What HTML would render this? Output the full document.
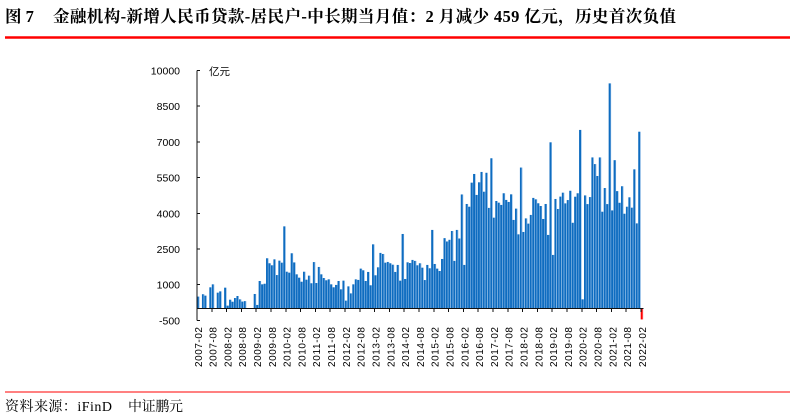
<!DOCTYPE html>
<html>
<head>
<meta charset="utf-8">
<style>
html,body{margin:0;padding:0;background:#fff;}
svg{display:block;}
.t{font-family:"Liberation Serif","Noto Serif CJK SC",serif;font-weight:bold;font-size:16.5px;fill:#000;}
.f{font-family:"Liberation Serif","Noto Serif CJK SC",serif;font-size:14px;fill:#000;}
.yl{font-family:"Liberation Sans","Noto Sans CJK SC",sans-serif;font-size:10.5px;fill:#000;}
.xl{font-family:"Liberation Sans",sans-serif;font-size:10px;fill:#000;}
</style>
</head>
<body>
<svg width="790" height="419" viewBox="0 0 790 419" xmlns="http://www.w3.org/2000/svg">
<defs>
<linearGradient id="bg" x1="0" y1="0" x2="1" y2="0">
<stop offset="0" stop-color="#0e6cc0"/>
<stop offset="0.68" stop-color="#0e6cc0"/>
<stop offset="0.74" stop-color="#7db1e2"/>
<stop offset="1" stop-color="#7db1e2"/>
</linearGradient>
<linearGradient id="rg" x1="0" y1="0" x2="1" y2="0">
<stop offset="0" stop-color="#ff0000"/>
<stop offset="0.7" stop-color="#ff0000"/>
<stop offset="0.75" stop-color="#ff8080"/>
<stop offset="1" stop-color="#ff8080"/>
</linearGradient>
</defs>

<!-- Title -->
<text class="t" x="5" y="22">图 7</text>
<text class="t" x="53" y="22" textLength="623" lengthAdjust="spacing">金融机构-新增人民币贷款-居民户-中长期当月值：2 月减少 459 亿元，历史首次负值</text>
<line x1="5" y1="37.5" x2="790" y2="37.5" stroke="#ff0000" stroke-width="2.5"/>

<!-- Bars -->
<g transform="translate(197,308.5) scale(2.465,-0.02381)" fill="url(#bg)">
<rect x="0" y="0" width="1" height="500"/>
<rect x="2" y="0" width="1" height="600"/>
<rect x="3" y="0" width="1" height="540"/>
<rect x="5" y="0" width="1" height="890"/>
<rect x="6" y="0" width="1" height="1015"/>
<rect x="8" y="0" width="1" height="665"/>
<rect x="9" y="0" width="1" height="720"/>
<rect x="11" y="0" width="1" height="875"/>
<rect x="12" y="0" width="1" height="120"/>
<rect x="13" y="0" width="1" height="370"/>
<rect x="14" y="0" width="1" height="285"/>
<rect x="15" y="0" width="1" height="440"/>
<rect x="16" y="0" width="1" height="525"/>
<rect x="17" y="0" width="1" height="385"/>
<rect x="18" y="0" width="1" height="290"/>
<rect x="19" y="0" width="1" height="310"/>
<rect x="23" y="0" width="1" height="610"/>
<rect x="24" y="0" width="1" height="150"/>
<rect x="25" y="0" width="1" height="1155"/>
<rect x="26" y="0" width="1" height="1015"/>
<rect x="27" y="0" width="1" height="1040"/>
<rect x="28" y="0" width="1" height="2110"/>
<rect x="29" y="0" width="1" height="1900"/>
<rect x="30" y="0" width="1" height="1815"/>
<rect x="31" y="0" width="1" height="2065"/>
<rect x="32" y="0" width="1" height="1405"/>
<rect x="33" y="0" width="1" height="2010"/>
<rect x="34" y="0" width="1" height="1925"/>
<rect x="35" y="0" width="1" height="3450"/>
<rect x="36" y="0" width="1" height="1545"/>
<rect x="37" y="0" width="1" height="1505"/>
<rect x="38" y="0" width="1" height="2320"/>
<rect x="39" y="0" width="1" height="1935"/>
<rect x="40" y="0" width="1" height="1435"/>
<rect x="41" y="0" width="1" height="1295"/>
<rect x="42" y="0" width="1" height="1125"/>
<rect x="43" y="0" width="1" height="1545"/>
<rect x="44" y="0" width="1" height="1210"/>
<rect x="45" y="0" width="1" height="1380"/>
<rect x="46" y="0" width="1" height="1060"/>
<rect x="47" y="0" width="1" height="1950"/>
<rect x="48" y="0" width="1" height="1070"/>
<rect x="49" y="0" width="1" height="1745"/>
<rect x="50" y="0" width="1" height="1435"/>
<rect x="51" y="0" width="1" height="1280"/>
<rect x="52" y="0" width="1" height="1185"/>
<rect x="53" y="0" width="1" height="1225"/>
<rect x="54" y="0" width="1" height="1015"/>
<rect x="55" y="0" width="1" height="890"/>
<rect x="56" y="0" width="1" height="990"/>
<rect x="57" y="0" width="1" height="1155"/>
<rect x="58" y="0" width="1" height="805"/>
<rect x="59" y="0" width="1" height="1170"/>
<rect x="60" y="0" width="1" height="330"/>
<rect x="61" y="0" width="1" height="930"/>
<rect x="62" y="0" width="1" height="635"/>
<rect x="63" y="0" width="1" height="1015"/>
<rect x="64" y="0" width="1" height="1225"/>
<rect x="65" y="0" width="1" height="1200"/>
<rect x="66" y="0" width="1" height="1675"/>
<rect x="67" y="0" width="1" height="1605"/>
<rect x="68" y="0" width="1" height="1155"/>
<rect x="69" y="0" width="1" height="1535"/>
<rect x="70" y="0" width="1" height="975"/>
<rect x="71" y="0" width="1" height="2695"/>
<rect x="72" y="0" width="1" height="1395"/>
<rect x="73" y="0" width="1" height="1730"/>
<rect x="74" y="0" width="1" height="2335"/>
<rect x="75" y="0" width="1" height="2290"/>
<rect x="76" y="0" width="1" height="1925"/>
<rect x="77" y="0" width="1" height="1955"/>
<rect x="78" y="0" width="1" height="1900"/>
<rect x="79" y="0" width="1" height="1840"/>
<rect x="80" y="0" width="1" height="1535"/>
<rect x="81" y="0" width="1" height="1830"/>
<rect x="82" y="0" width="1" height="1170"/>
<rect x="83" y="0" width="1" height="3130"/>
<rect x="84" y="0" width="1" height="1240"/>
<rect x="85" y="0" width="1" height="1940"/>
<rect x="86" y="0" width="1" height="1910"/>
<rect x="87" y="0" width="1" height="2040"/>
<rect x="88" y="0" width="1" height="2000"/>
<rect x="89" y="0" width="1" height="1815"/>
<rect x="90" y="0" width="1" height="1900"/>
<rect x="91" y="0" width="1" height="1715"/>
<rect x="92" y="0" width="1" height="1195"/>
<rect x="93" y="0" width="1" height="1830"/>
<rect x="94" y="0" width="1" height="1690"/>
<rect x="95" y="0" width="1" height="3300"/>
<rect x="96" y="0" width="1" height="1870"/>
<rect x="97" y="0" width="1" height="1675"/>
<rect x="98" y="0" width="1" height="1575"/>
<rect x="99" y="0" width="1" height="2080"/>
<rect x="100" y="0" width="1" height="2955"/>
<rect x="101" y="0" width="1" height="2815"/>
<rect x="102" y="0" width="1" height="2885"/>
<rect x="103" y="0" width="1" height="3255"/>
<rect x="104" y="0" width="1" height="2000"/>
<rect x="105" y="0" width="1" height="3300"/>
<rect x="106" y="0" width="1" height="2940"/>
<rect x="107" y="0" width="1" height="4790"/>
<rect x="108" y="0" width="1" height="1830"/>
<rect x="109" y="0" width="1" height="4390"/>
<rect x="110" y="0" width="1" height="4275"/>
<rect x="111" y="0" width="1" height="5285"/>
<rect x="112" y="0" width="1" height="5650"/>
<rect x="113" y="0" width="1" height="4770"/>
<rect x="114" y="0" width="1" height="5300"/>
<rect x="115" y="0" width="1" height="5735"/>
<rect x="116" y="0" width="1" height="4905"/>
<rect x="117" y="0" width="1" height="5700"/>
<rect x="118" y="0" width="1" height="4225"/>
<rect x="119" y="0" width="1" height="6310"/>
<rect x="120" y="0" width="1" height="3815"/>
<rect x="121" y="0" width="1" height="4515"/>
<rect x="122" y="0" width="1" height="4445"/>
<rect x="123" y="0" width="1" height="4350"/>
<rect x="124" y="0" width="1" height="4840"/>
<rect x="125" y="0" width="1" height="4560"/>
<rect x="126" y="0" width="1" height="4475"/>
<rect x="127" y="0" width="1" height="4795"/>
<rect x="128" y="0" width="1" height="3720"/>
<rect x="129" y="0" width="1" height="4195"/>
<rect x="130" y="0" width="1" height="3115"/>
<rect x="131" y="0" width="1" height="5920"/>
<rect x="132" y="0" width="1" height="3215"/>
<rect x="133" y="0" width="1" height="3785"/>
<rect x="134" y="0" width="1" height="3565"/>
<rect x="135" y="0" width="1" height="3930"/>
<rect x="136" y="0" width="1" height="4645"/>
<rect x="137" y="0" width="1" height="4585"/>
<rect x="138" y="0" width="1" height="4420"/>
<rect x="139" y="0" width="1" height="4305"/>
<rect x="140" y="0" width="1" height="3760"/>
<rect x="141" y="0" width="1" height="4390"/>
<rect x="142" y="0" width="1" height="3090"/>
<rect x="143" y="0" width="1" height="6980"/>
<rect x="144" y="0" width="1" height="2250"/>
<rect x="145" y="0" width="1" height="4600"/>
<rect x="146" y="0" width="1" height="4180"/>
<rect x="147" y="0" width="1" height="4700"/>
<rect x="148" y="0" width="1" height="4865"/>
<rect x="149" y="0" width="1" height="4415"/>
<rect x="150" y="0" width="1" height="4555"/>
<rect x="151" y="0" width="1" height="4945"/>
<rect x="152" y="0" width="1" height="3600"/>
<rect x="153" y="0" width="1" height="4695"/>
<rect x="154" y="0" width="1" height="4840"/>
<rect x="155" y="0" width="1" height="7500"/>
<rect x="156" y="0" width="1" height="385"/>
<rect x="157" y="0" width="1" height="4750"/>
<rect x="158" y="0" width="1" height="4385"/>
<rect x="159" y="0" width="1" height="4680"/>
<rect x="160" y="0" width="1" height="6345"/>
<rect x="161" y="0" width="1" height="6065"/>
<rect x="162" y="0" width="1" height="5565"/>
<rect x="163" y="0" width="1" height="6345"/>
<rect x="164" y="0" width="1" height="4065"/>
<rect x="165" y="0" width="1" height="5060"/>
<rect x="166" y="0" width="1" height="4385"/>
<rect x="167" y="0" width="1" height="9455"/>
<rect x="168" y="0" width="1" height="4120"/>
<rect x="169" y="0" width="1" height="6230"/>
<rect x="170" y="0" width="1" height="4930"/>
<rect x="171" y="0" width="1" height="4440"/>
<rect x="172" y="0" width="1" height="5135"/>
<rect x="173" y="0" width="1" height="3980"/>
<rect x="174" y="0" width="1" height="4275"/>
<rect x="175" y="0" width="1" height="4670"/>
<rect x="176" y="0" width="1" height="4235"/>
<rect x="177" y="0" width="1" height="5845"/>
<rect x="178" y="0" width="1" height="3575"/>
<rect x="179" y="0" width="1" height="7425"/>
<rect x="180" y="-459" width="1" height="459" fill="url(#rg)"/>
</g>

<!-- Axes -->
<g stroke="#111" stroke-width="1" fill="none" shape-rendering="crispEdges">
<line x1="197" y1="70.4" x2="197" y2="320.6"/>
<line x1="197" y1="308.5" x2="643.5" y2="308.5"/>
<path d="M197 70.4h3M197 106.1h3M197 141.8h3M197 177.6h3M197 213.3h3M197 249h3M197 284.7h3M197 320.6h3"/>
<path d="M211.8 308.5v3.5M226.6 308.5v3.5M241.4 308.5v3.5M256.2 308.5v3.5M271 308.5v3.5M285.8 308.5v3.5M300.6 308.5v3.5M315.4 308.5v3.5M330.2 308.5v3.5M345 308.5v3.5M359.8 308.5v3.5M374.6 308.5v3.5M389.4 308.5v3.5M404.2 308.5v3.5M419 308.5v3.5M433.8 308.5v3.5M448.6 308.5v3.5M463.4 308.5v3.5M478.2 308.5v3.5M493 308.5v3.5M507.8 308.5v3.5M522.6 308.5v3.5M537.4 308.5v3.5M552.2 308.5v3.5M567 308.5v3.5M581.8 308.5v3.5M596.6 308.5v3.5M611.4 308.5v3.5M626.2 308.5v3.5M641 308.5v3.5"/>
</g>

<!-- Y labels -->
<g class="yl" text-anchor="end">
<text x="180" y="74.4">10000</text>
<text x="180" y="110.1">8500</text>
<text x="180" y="145.8">7000</text>
<text x="180" y="181.6">5500</text>
<text x="180" y="217.3">4000</text>
<text x="180" y="253">2500</text>
<text x="180" y="288.7">1000</text>
<text x="180" y="324.6">-500</text>
</g>
<text class="yl" x="209" y="75" font-size="11">亿元</text>

<!-- X labels -->
<g class="xl" text-anchor="end">
<text transform="translate(201.8,327) rotate(-90)" textLength="40" lengthAdjust="spacing">2007-02</text>
<text transform="translate(216.6,327) rotate(-90)" textLength="40" lengthAdjust="spacing">2007-08</text>
<text transform="translate(231.4,327) rotate(-90)" textLength="40" lengthAdjust="spacing">2008-02</text>
<text transform="translate(246.2,327) rotate(-90)" textLength="40" lengthAdjust="spacing">2008-08</text>
<text transform="translate(261,327) rotate(-90)" textLength="40" lengthAdjust="spacing">2009-02</text>
<text transform="translate(275.8,327) rotate(-90)" textLength="40" lengthAdjust="spacing">2009-08</text>
<text transform="translate(290.6,327) rotate(-90)" textLength="40" lengthAdjust="spacing">2010-02</text>
<text transform="translate(305.4,327) rotate(-90)" textLength="40" lengthAdjust="spacing">2010-08</text>
<text transform="translate(320.2,327) rotate(-90)" textLength="40" lengthAdjust="spacing">2011-02</text>
<text transform="translate(335.1,327) rotate(-90)" textLength="40" lengthAdjust="spacing">2011-08</text>
<text transform="translate(349.9,327) rotate(-90)" textLength="40" lengthAdjust="spacing">2012-02</text>
<text transform="translate(364.7,327) rotate(-90)" textLength="40" lengthAdjust="spacing">2012-08</text>
<text transform="translate(379.5,327) rotate(-90)" textLength="40" lengthAdjust="spacing">2013-02</text>
<text transform="translate(394.3,327) rotate(-90)" textLength="40" lengthAdjust="spacing">2013-08</text>
<text transform="translate(409.1,327) rotate(-90)" textLength="40" lengthAdjust="spacing">2014-02</text>
<text transform="translate(423.9,327) rotate(-90)" textLength="40" lengthAdjust="spacing">2014-08</text>
<text transform="translate(438.7,327) rotate(-90)" textLength="40" lengthAdjust="spacing">2015-02</text>
<text transform="translate(453.5,327) rotate(-90)" textLength="40" lengthAdjust="spacing">2015-08</text>
<text transform="translate(468.3,327) rotate(-90)" textLength="40" lengthAdjust="spacing">2016-02</text>
<text transform="translate(483.1,327) rotate(-90)" textLength="40" lengthAdjust="spacing">2016-08</text>
<text transform="translate(497.9,327) rotate(-90)" textLength="40" lengthAdjust="spacing">2017-02</text>
<text transform="translate(512.7,327) rotate(-90)" textLength="40" lengthAdjust="spacing">2017-08</text>
<text transform="translate(527.5,327) rotate(-90)" textLength="40" lengthAdjust="spacing">2018-02</text>
<text transform="translate(542.3,327) rotate(-90)" textLength="40" lengthAdjust="spacing">2018-08</text>
<text transform="translate(557.1,327) rotate(-90)" textLength="40" lengthAdjust="spacing">2019-02</text>
<text transform="translate(571.9,327) rotate(-90)" textLength="40" lengthAdjust="spacing">2019-08</text>
<text transform="translate(586.7,327) rotate(-90)" textLength="40" lengthAdjust="spacing">2020-02</text>
<text transform="translate(601.5,327) rotate(-90)" textLength="40" lengthAdjust="spacing">2020-08</text>
<text transform="translate(616.3,327) rotate(-90)" textLength="40" lengthAdjust="spacing">2021-02</text>
<text transform="translate(631.1,327) rotate(-90)" textLength="40" lengthAdjust="spacing">2021-08</text>
<text transform="translate(645.9,327) rotate(-90)" textLength="40" lengthAdjust="spacing">2022-02</text>
</g>

<!-- Footer -->
<line x1="5" y1="392" x2="790" y2="392" stroke="#ff0000" stroke-width="1"/>
<text class="f" x="5" y="411" textLength="107" lengthAdjust="spacing">资料来源：iFinD</text>
<text class="f" x="128" y="411" textLength="55" lengthAdjust="spacing">中证鹏元</text>
</svg>
</body>
</html>
